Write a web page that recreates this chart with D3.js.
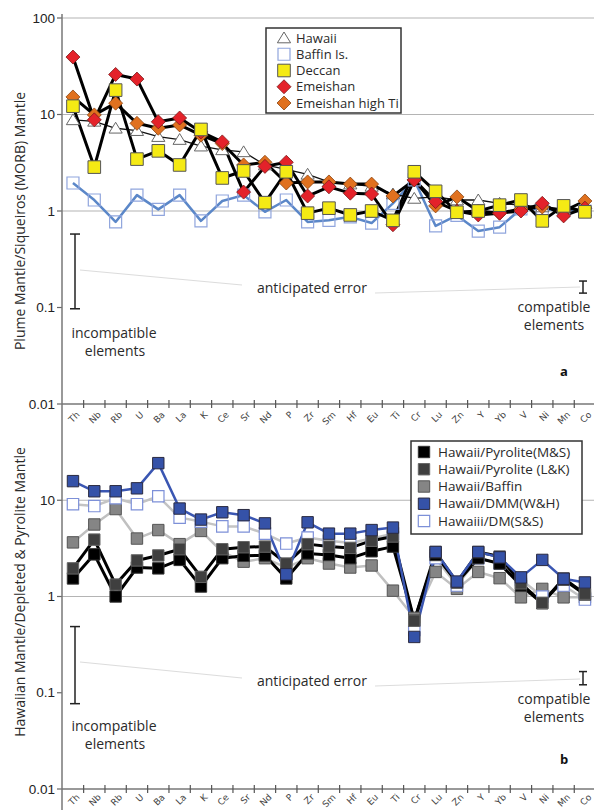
<!DOCTYPE html>
<html>
<head>
<meta charset="utf-8">
<script src="https://cdn.jsdelivr.net/npm/d3@7"></script>
<style>
  body { margin: 0; background: #fff; }
  text { font-family: "Open Sans", sans-serif; fill: #2a2a2a; }
</style>
</head>
<body>
<svg id="chart" width="594" height="810"></svg>
<script>
// element order along the x axis
var elements = ["Th","Nb","Rb","U","Ba","La","K","Ce","Sr","Nd","P","Zr","Sm","Hf","Eu","Ti","Cr","Lu","Zn","Y","Yb","V","Ni","Mn","Co"];

// panel a : plume mantle / Siqueiros (MORB) mantle
var hawaii         = [8.8, 8.5, 7.2, 6.8, 5.9, 5.5, 4.7, 4.3, 4.1, 3.0, 2.7, 2.4, 2.0, 1.9, 1.8, 1.5, 1.35, 1.4, 1.3, 1.3, 1.2, 1.15, 1.1, 1.05, 1.0];
var baffinIs       = [1.95, 1.3, 0.77, 1.46, 1.04, 1.46, 0.79, 1.27, 1.46, 0.98, 1.3, 0.77, 0.8, 0.87, 0.75, 1.2, 2.1, 0.7, 0.9, 0.62, 0.68, 1.05, 1.05, 1.0, 1.0];
var deccan         = [12.2, 2.85, 17.9, 3.45, 4.2, 3.0, 7.0, 2.2, 2.6, 1.22, 2.55, 0.95, 1.07, 0.91, 1.0, 0.8, 2.55, 1.6, 0.97, 1.0, 1.15, 1.3, 0.79, 1.13, 0.98];
var emeishan       = [39.4, 8.8, 26, 23.3, 8.4, 9.2, 6.6, 5.2, 1.57, 2.9, 3.2, 1.43, 1.78, 1.53, 1.5, 0.72, 2.1, 1.25, 1.0, 0.91, 0.95, 1.0, 1.2, 0.89, 1.07];
var emeishanHighTi = [15.2, 9.9, 13.1, 8.1, 7.2, 7.8, 6.1, 5.0, 3.0, 3.2, 1.95, 2.0, 2.0, 1.9, 1.9, 1.43, 2.1, 1.13, 1.4, 1.0, 0.95, 1.05, 1.1, 1.0, 1.27];

// panel b : Hawaiian mantle / depleted & pyrolite mantle
var pyroliteMS = [1.54, 2.74, 1.0, 2.0, 1.96, 2.4, 1.27, 2.5, 2.65, 2.67, 1.54, 2.8, 2.7, 2.5, 2.95, 3.3, 0.56, 2.7, 1.4, 2.5, 2.2, 1.3, 0.85, 1.5, 1.05];
var pyroliteLK = [1.96, 3.9, 1.33, 2.37, 2.67, 3.1, 1.6, 3.1, 3.25, 3.3, 2.2, 3.5, 3.3, 3.2, 3.8, 4.2, 0.56, 2.9, 1.4, 2.9, 2.6, 1.37, 0.86, 1.54, 1.07];
var hawBaffin  = [3.65, 5.6, 8.1, 4.0, 4.9, 3.5, 4.8, 2.9, 2.3, 2.5, 2.0, 2.5, 2.2, 2.0, 2.1, 1.15, 0.6, 1.8, 1.2, 1.8, 1.55, 0.98, 1.2, 0.98, 0.98];
var dmmWH      = [15.8, 12.4, 12.4, 13.3, 24.3, 8.2, 6.3, 7.5, 7.0, 5.75, 1.7, 5.9, 4.5, 4.5, 4.9, 5.2, 0.38, 2.9, 1.43, 2.9, 2.55, 1.58, 2.4, 1.53, 1.4];
var dmSS       = [9.1, 8.7, 10.5, 9.1, 11.0, 6.6, 6.0, 5.35, 5.35, 4.5, 3.55, 4.1, 3.8, 3.6, 4.0, 4.5, 0.45, 2.5, 1.3, 2.5, 2.2, 1.5, 1.0, 1.3, 0.93];

var tickValues = [0.01, 0.1, 1, 10, 100];
var tickLabels = ["0.01", "0.1", "1", "10", "100"];

var svg = d3.select("#chart");

var x = d3.scaleBand().domain(elements).range([62.3, 595.6]).padding(0);
function cx(i) { return x(elements[i]) + x.bandwidth() / 2; }

var yTop = d3.scaleLog().domain([0.01, 100]).range([404, 18]);
var yBot = d3.scaleLog().domain([0.01, 100]).range([789, 404]);

function markerPath(type, r) {
  if (type == "diamond") return "M0," + (-r) + "L" + r + ",0L0," + r + "L" + (-r) + ",0Z";
  if (type == "triangle") return "M0," + (-r) + "L" + (r * 1.1) + "," + (r * 0.8) + "L" + (-r * 1.1) + "," + (r * 0.8) + "Z";
  return "M" + (-r) + "," + (-r) + "H" + r + "V" + r + "H" + (-r) + "Z";
}

var topSeries = [
  {name: "Hawaii", values: hawaii, line: "#111", lw: 1.3, type: "triangle", r: 6, fill: "#fff", stroke: "#666", sw: 1},
  {name: "Baffin Is.", values: baffinIs, line: "#5b87c8", lw: 2.5, type: "square", r: 6, fill: "none", stroke: "#90a5dd", sw: 1.2},
  {name: "Deccan", values: deccan, line: "#000", lw: 3, type: "square", r: 6.3, fill: "#f5ea14", stroke: "#555", sw: 1},
  {name: "Emeishan", values: emeishan, line: "#000", lw: 3, type: "diamond", r: 7, fill: "#e4222a", stroke: "#7a1a1a", sw: 0.8},
  {name: "Emeishan high Ti", values: emeishanHighTi, line: "#000", lw: 3, type: "diamond", r: 7, fill: "#e0711f", stroke: "#8a4512", sw: 0.8}
];
// drawing order (bottom to top)
var topOrder = [1, 0, 4, 3, 2];

var botSeries = [
  {name: "Hawaii/Pyrolite(M&S)", values: pyroliteMS, line: "#000", lw: 3, type: "square", r: 5.7, fill: "#000", stroke: "#333", sw: 1},
  {name: "Hawaii/Pyrolite (L&K)", values: pyroliteLK, line: "#000", lw: 3, type: "square", r: 5.7, fill: "#3f3f3f", stroke: "#666", sw: 1},
  {name: "Hawaii/Baffin", values: hawBaffin, line: "#c0c0c0", lw: 2.5, type: "square", r: 5.7, fill: "#858585", stroke: "#555", sw: 1},
  {name: "Hawaii/DMM(W&H)", values: dmmWH, line: "#3a56b2", lw: 2.5, type: "square", r: 5.7, fill: "#3552a8", stroke: "#2a2a40", sw: 1},
  {name: "Hawaiii/DM(S&S)", values: dmSS, line: "#c4c4c4", lw: 2.5, type: "square", r: 5.7, fill: "#fff", stroke: "#7d90d8", sw: 1.2}
];
var botOrder = [2, 4, 0, 1, 3];

function drawPanel(y, axisY, labelOff, gridVals, labelVals, series, order) {
  var g = svg.append("g");

  // grid lines
  g.selectAll(".grid").data(gridVals).enter().append("line")
    .attr("x1", 62).attr("x2", 594)
    .attr("y1", function(d) { return y(d); }).attr("y2", function(d) { return y(d); })
    .attr("stroke", "#b4b4b4").attr("stroke-width", 1.2);

  // x axis
  g.append("line").attr("x1", 62).attr("x2", 594).attr("y1", axisY).attr("y2", axisY)
    .attr("stroke", "#777").attr("stroke-width", 1.5);
  g.selectAll(".xt").data(elements.slice(1)).enter().append("line")
    .attr("x1", function(d) { return x(d); }).attr("x2", function(d) { return x(d); })
    .attr("y1", axisY - 4).attr("y2", axisY + 4)
    .attr("stroke", "#555").attr("stroke-width", 1.2);
  g.selectAll(".xl").data(elements).enter().append("text")
    .attr("transform", function(d, i) { return "translate(" + (cx(i) + 5) + "," + (axisY + labelOff) + ") rotate(-45)"; })
    .attr("text-anchor", "end").attr("dy", "0.35em")
    .style("font-family", "DejaVu Sans, Verdana, sans-serif").style("font-size", "9px").style("fill", "#444")
    .text(function(d) { return d; });

  // y ticks
  g.selectAll(".yt").data(labelVals).enter().append("line")
    .attr("x1", 57).attr("x2", 62)
    .attr("y1", function(d) { return y(tickValues[d]); }).attr("y2", function(d) { return y(tickValues[d]); })
    .attr("stroke", "#666").attr("stroke-width", 1.2);
  g.selectAll(".yl").data(labelVals).enter().append("text")
    .attr("x", 55).attr("y", function(d) { return y(tickValues[d]); })
    .attr("dy", "0.35em").attr("text-anchor", "end")
    .style("font-family", "Liberation Sans, Arial, sans-serif").style("font-size", "13.5px").style("fill", "#222")
    .text(function(d) { return tickLabels[d]; });

  // series
  order.forEach(function(k) {
    var s = series[k];
    var line = d3.line().x(function(d, i) { return cx(i); }).y(function(d) { return y(d); });
    g.append("path").datum(s.values).attr("d", line)
      .attr("fill", "none").attr("stroke", s.line).attr("stroke-width", s.lw)
      .attr("stroke-linejoin", "round");
  });
  order.forEach(function(k) {
    var s = series[k];
    g.selectAll(null).data(s.values).enter().append("path")
      .attr("transform", function(d, i) { return "translate(" + cx(i) + "," + y(d) + ")"; })
      .attr("d", markerPath(s.type, s.r))
      .attr("fill", s.fill).attr("stroke", s.stroke).attr("stroke-width", s.sw);
  });
  return g;
}

function drawNotes(y, big, small, lineL, lineR, textY, cmpY, letter, letterY) {
  var g = svg.append("g");
  g.append("line").attr("x1", lineL[0]).attr("y1", lineL[1]).attr("x2", lineL[2]).attr("y2", lineL[3])
    .attr("stroke", "#dcdcdc").attr("stroke-width", 1);
  g.append("line").attr("x1", lineR[0]).attr("y1", lineR[1]).attr("x2", lineR[2]).attr("y2", lineR[3])
    .attr("stroke", "#dcdcdc").attr("stroke-width", 1);
  [[75, big, 5], [583, small, 4]].forEach(function(b) {
    var y0 = y(b[1][0]), y1 = y(b[1][1]);
    g.append("line").attr("x1", b[0]).attr("x2", b[0]).attr("y1", y0).attr("y2", y1).attr("stroke", "#222").attr("stroke-width", 1.5);
    [y0, y1].forEach(function(yy) {
      g.append("line").attr("x1", b[0] - b[2]).attr("x2", b[0] + b[2]).attr("y1", yy).attr("y2", yy).attr("stroke", "#222").attr("stroke-width", 1.5);
    });
  });
  g.append("text").attr("x", 312).attr("y", textY).attr("dy", "0.35em").attr("text-anchor", "middle")
    .style("font-size", "14px").text("anticipated error");
  g.append("text").attr("x", 114).attr("y", textY + 45).attr("dy", "0.35em").attr("text-anchor", "middle")
    .style("font-size", "14px").text("incompatible");
  g.append("text").attr("x", 115).attr("y", textY + 63).attr("dy", "0.35em").attr("text-anchor", "middle")
    .style("font-size", "14px").text("elements");
  g.append("text").attr("x", 554).attr("y", cmpY).attr("dy", "0.35em").attr("text-anchor", "middle")
    .style("font-size", "14px").text("compatible");
  g.append("text").attr("x", 554).attr("y", cmpY + 18).attr("dy", "0.35em").attr("text-anchor", "middle")
    .style("font-size", "14px").text("elements");
  g.append("text").attr("x", 564).attr("y", letterY).attr("dy", "0.35em").attr("text-anchor", "middle")
    .style("font-size", "13px").style("font-weight", "bold").style("fill", "#111").text(letter);
}

function drawLegend(series, bx, by, bw, bh, y0, step, mx, tx, fs) {
  var g = svg.append("g");
  g.append("rect").attr("x", bx).attr("y", by).attr("width", bw).attr("height", bh)
    .attr("fill", "#fff").attr("stroke", "#333").attr("stroke-width", 1.5);
  series.forEach(function(s, i) {
    var yy = y0 + i * step;
    g.append("path").attr("transform", "translate(" + mx + "," + yy + ")")
      .attr("d", markerPath(s.type, s.r))
      .attr("fill", s.fill).attr("stroke", s.stroke).attr("stroke-width", s.sw);
    g.append("text").attr("x", tx).attr("y", yy).attr("dy", "0.35em")
      .style("font-size", fs).text(s.name);
  });
}

// notes go under the data
drawNotes(yTop, [0.577, 0.097], [0.188, 0.141], [80, 270, 242, 285], [375, 293, 580, 287], 288, 307, "a", 371);
drawNotes(yBot, [0.487, 0.077], [0.166, 0.121], [80, 662, 242, 678], [375, 686, 580, 679], 681, 699, "b", 759);

drawPanel(yBot, 789, 6.5, [1, 10], [0, 1, 2, 3], botSeries, botOrder);
drawPanel(yTop, 404, 9, [1, 10, 100], [0, 1, 2, 3, 4], topSeries, topOrder);

// shared y axis line
svg.append("line").attr("x1", 62).attr("x2", 62).attr("y1", 14).attr("y2", 810)
  .attr("stroke", "#777").attr("stroke-width", 1.5);

drawLegend(topSeries, 266, 28, 135, 85, 38, 16.25, 284, 296, "13px");
drawLegend(botSeries, 411, 441, 171, 93, 452, 17.25, 424, 438, "13.5px");

// axis titles
svg.append("text").attr("transform", "translate(20,221) rotate(-90)")
  .attr("text-anchor", "middle").attr("dy", "0.35em").style("font-size", "14px")
  .text("Plume Mantle/Siqueiros (MORB) Mantle");
svg.append("text").attr("transform", "translate(20,592) rotate(-90)")
  .attr("text-anchor", "middle").attr("dy", "0.35em").style("font-size", "14px")
  .text("Hawaiian Mantle/Depleted & Pyrolite Mantle");
</script>
</body>
</html>
